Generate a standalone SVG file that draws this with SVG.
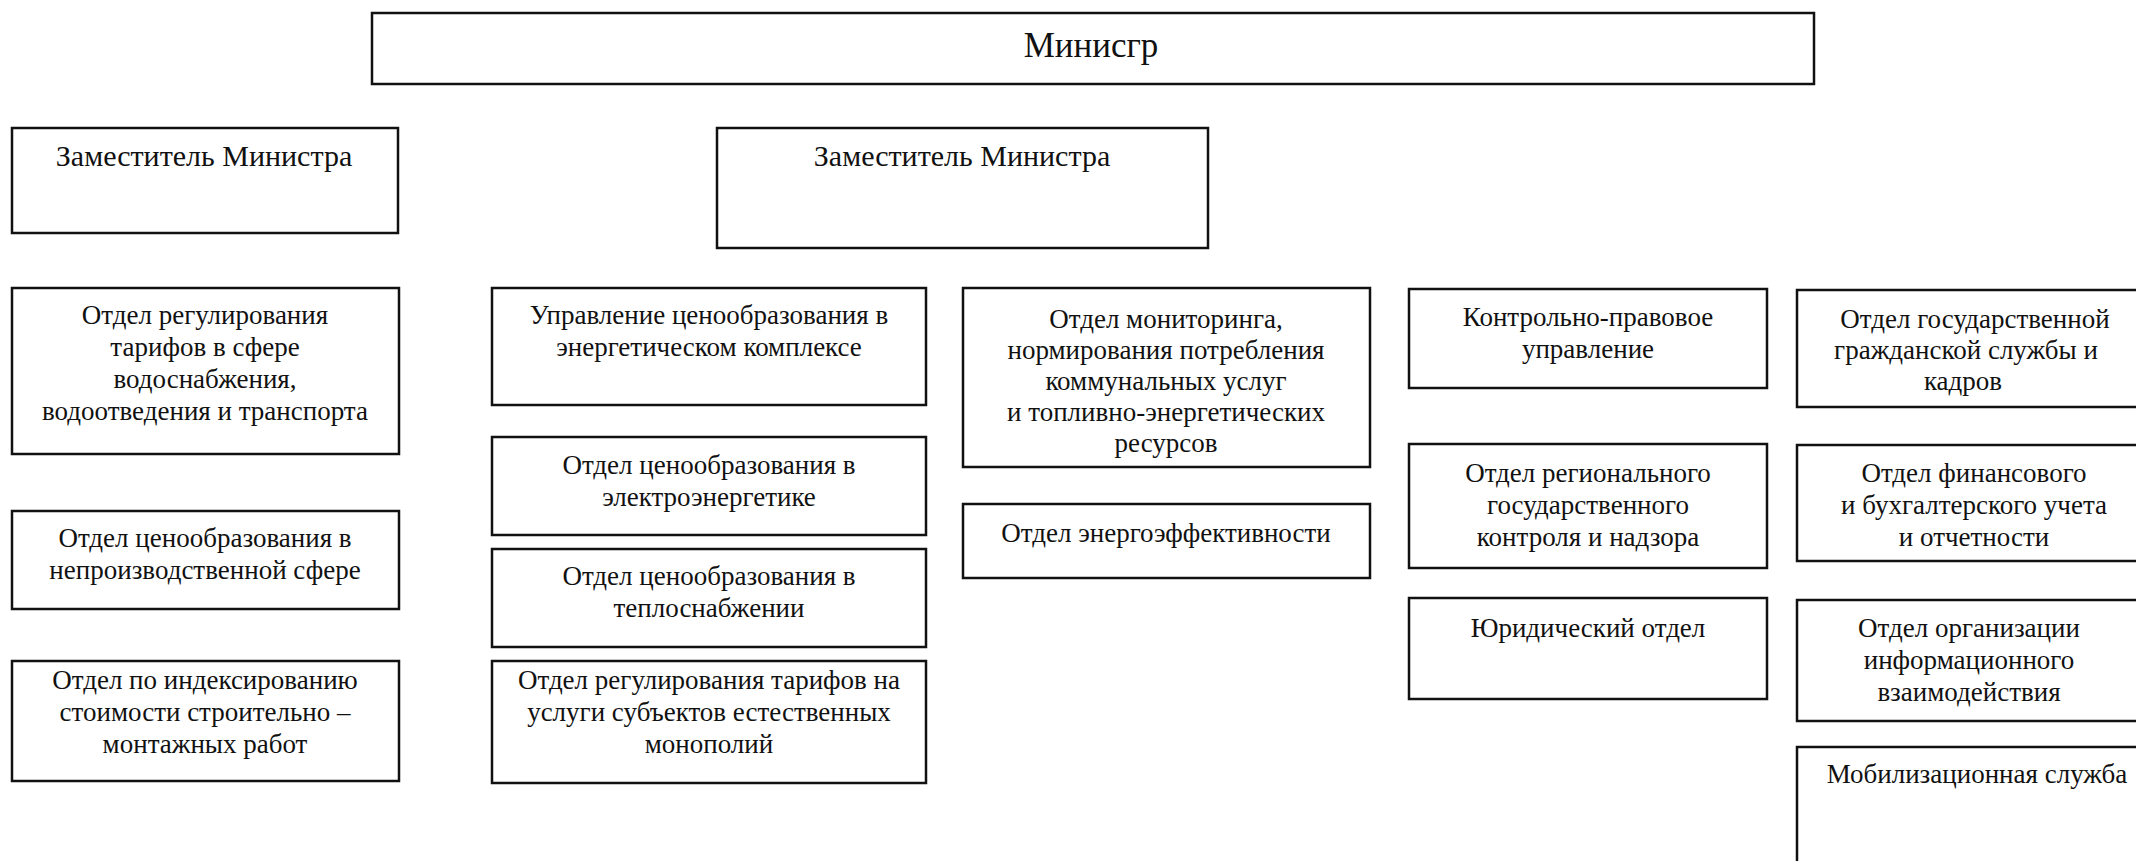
<svg xmlns="http://www.w3.org/2000/svg" width="2136" height="861" viewBox="0 0 2136 861">
<style>
rect.b{fill:#fff;stroke:#111;stroke-width:2.5}
text{font-family:"Liberation Serif","Times New Roman",serif;font-size:27px;fill:#111;text-anchor:middle}
text.dep{font-size:30px}
text.min{font-size:35px}
</style>
<rect width="2136" height="861" fill="#fff"/>
<g id="connectors"></g>
<g id="minister"><rect class="b" x="372" y="13" width="1442" height="71"/><text class="min" x="1091" y="57">Минисгр</text></g>
<g id="deputy1"><rect class="b" x="12" y="128" width="386" height="105"/><text class="dep" x="204" y="166">Заместитель Министра</text></g>
<g id="deputy2"><rect class="b" x="717" y="128" width="491" height="120"/><text class="dep" x="962" y="166">Заместитель Министра</text></g>

<g id="water"><rect class="b" x="12" y="288" width="387" height="166"/><text y="324"><tspan x="205">Отдел регулирования</tspan><tspan x="205" dy="32">тарифов в сфере</tspan><tspan x="205" dy="32">водоснабжения,</tspan><tspan x="205" dy="32">водоотведения и транспорта</tspan></text></g>
<g id="nonprod"><rect class="b" x="12" y="511" width="387" height="98"/><text y="547"><tspan x="205">Отдел ценообразования в</tspan><tspan x="205" dy="32">непроизводственной сфере</tspan></text></g>
<g id="index"><rect class="b" x="12" y="661" width="387" height="120"/><text y="689"><tspan x="205">Отдел по индексированию</tspan><tspan x="205" dy="32">стоимости строительно –</tspan><tspan x="205" dy="32">монтажных работ</tspan></text></g>

<g id="energy"><rect class="b" x="492" y="288" width="434" height="117"/><text y="324"><tspan x="709">Управление ценообразования в</tspan><tspan x="709" dy="32">энергетическом комплексе</tspan></text></g>
<g id="electro"><rect class="b" x="492" y="437" width="434" height="98"/><text y="474"><tspan x="709">Отдел ценообразования в</tspan><tspan x="709" dy="32">электроэнергетике</tspan></text></g>
<g id="heat"><rect class="b" x="492" y="549" width="434" height="98"/><text y="585"><tspan x="709">Отдел ценообразования в</tspan><tspan x="709" dy="32">теплоснабжении</tspan></text></g>
<g id="monopoly"><rect class="b" x="492" y="661" width="434" height="122"/><text y="689"><tspan x="709">Отдел регулирования тарифов на</tspan><tspan x="709" dy="32">услуги субъектов естественных</tspan><tspan x="709" dy="32">монополий</tspan></text></g>

<g id="monitoring"><rect class="b" x="963" y="288" width="407" height="179"/><text y="328"><tspan x="1166">Отдел мониторинга,</tspan><tspan x="1166" dy="31">нормирования потребления</tspan><tspan x="1166" dy="31">коммунальных услуг</tspan><tspan x="1166" dy="31">и топливно-энергетических</tspan><tspan x="1166" dy="31">ресурсов</tspan></text></g>
<g id="efficiency"><rect class="b" x="963" y="504" width="407" height="74"/><text x="1166" y="542">Отдел энергоэффективности</text></g>

<g id="control"><rect class="b" x="1409" y="289" width="358" height="99"/><text y="326"><tspan x="1588">Контрольно-правовое</tspan><tspan x="1588" dy="32">управление</tspan></text></g>
<g id="regional"><rect class="b" x="1409" y="444" width="358" height="124"/><text y="482"><tspan x="1588">Отдел регионального</tspan><tspan x="1588" dy="32">государственного</tspan><tspan x="1588" dy="32">контроля и надзора</tspan></text></g>
<g id="legal"><rect class="b" x="1409" y="598" width="358" height="101"/><text x="1588" y="637">Юридический отдел</text></g>

<g id="civil"><rect class="b" x="1797" y="290" width="360" height="117"/><text y="328"><tspan x="1975">Отдел государственной</tspan><tspan x="1966" dy="31">гражданской службы и</tspan><tspan x="1963" dy="31">кадров</tspan></text></g>
<g id="finance"><rect class="b" x="1797" y="445" width="360" height="116"/><text y="482"><tspan x="1974">Отдел финансового</tspan><tspan x="1974" dy="32">и бухгалтерского учета</tspan><tspan x="1974" dy="32">и отчетности</tspan></text></g>
<g id="info"><rect class="b" x="1797" y="600" width="360" height="121"/><text y="637"><tspan x="1969">Отдел организации</tspan><tspan x="1969" dy="32">информационного</tspan><tspan x="1969" dy="32">взаимодействия</tspan></text></g>
<g id="mobil"><rect class="b" x="1797" y="747" width="360" height="130"/><text x="1977" y="783">Мобилизационная служба</text></g>
</svg>
